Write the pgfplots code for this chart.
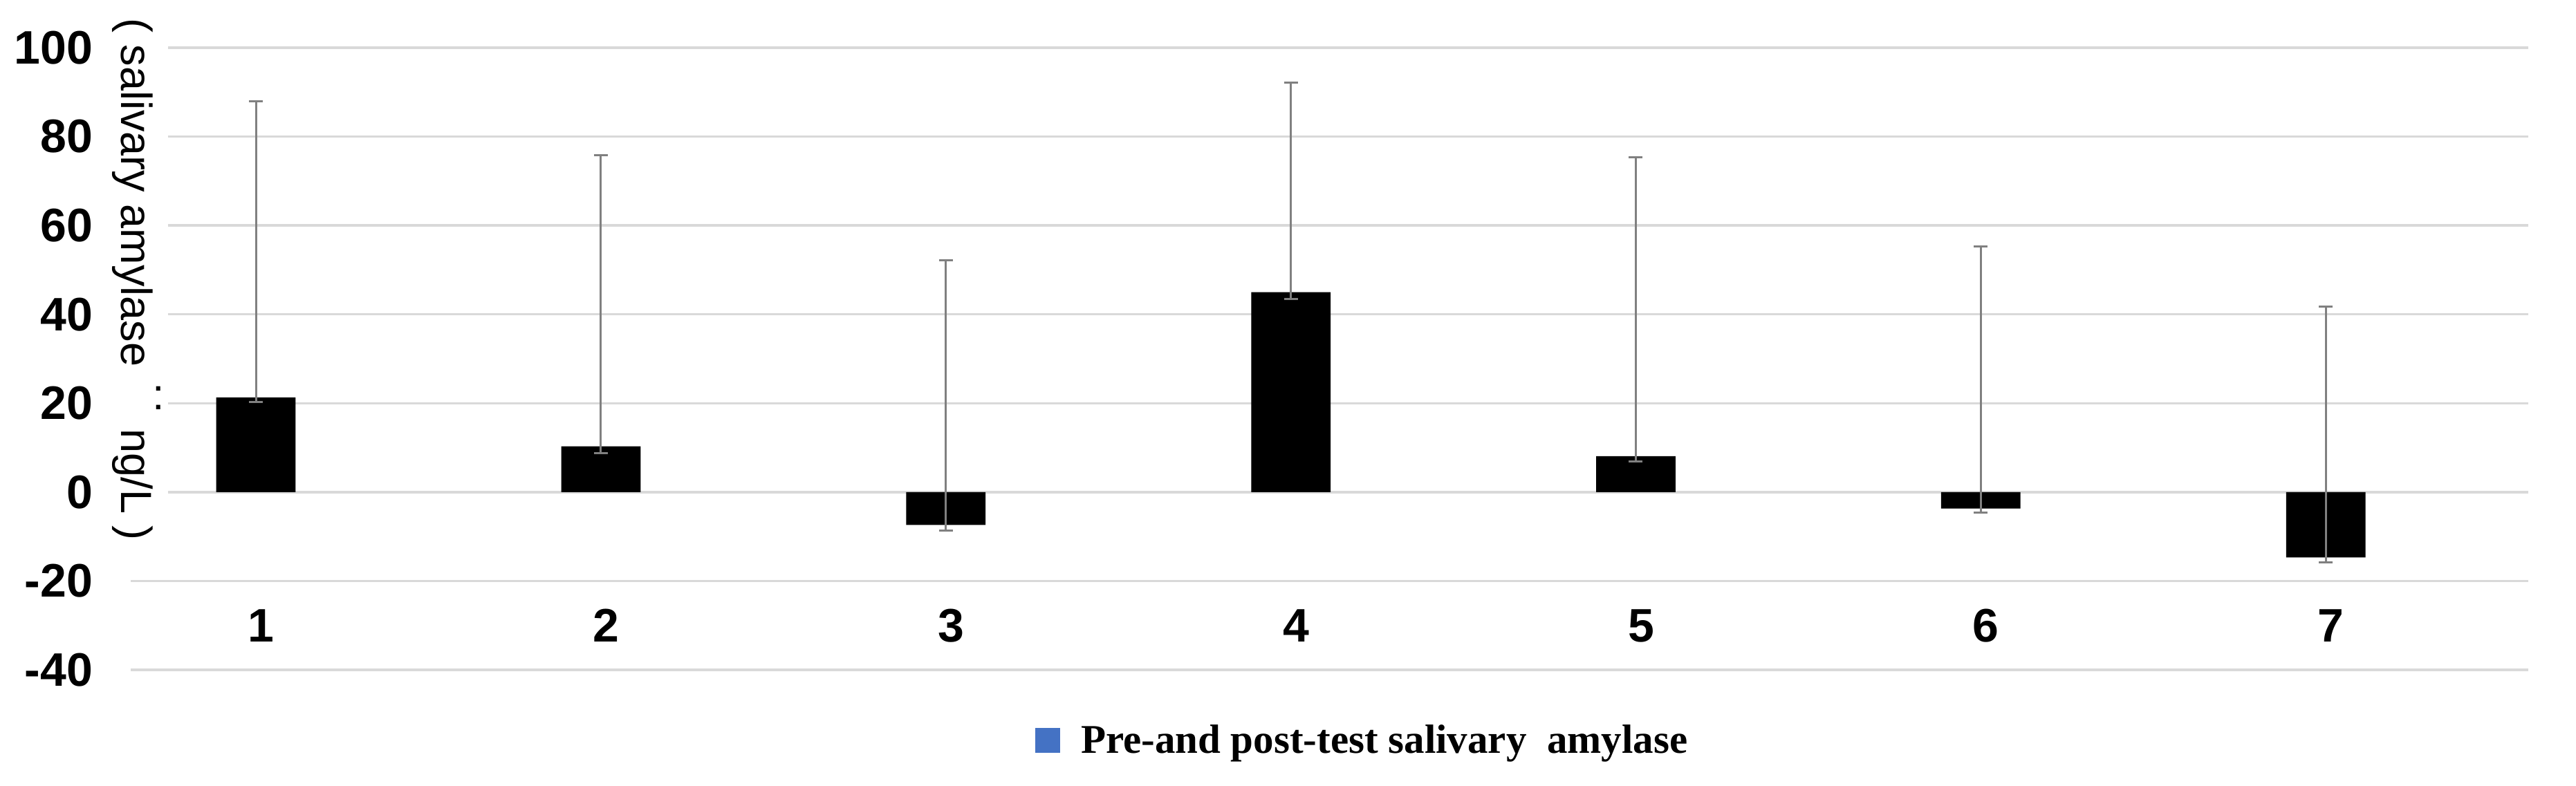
\documentclass[border=0pt]{standalone}
\usepackage{fontspec}
\setmainfont{Liberation Sans}
\newfontfamily\legfont{Liberation Serif}
\usepackage{graphicx}
\usepackage{pgfplots}
\pgfplotsset{compat=1.18}
\usepackage{pgfplotstable}
\definecolor{legblue}{HTML}{4472C4}
\definecolor{gridgray}{HTML}{D9D9D9}
\definecolor{errgray}{HTML}{808080}

% val = bar value; ep = error above the bar value; em = error below it
\pgfplotstableread{
x val ep em
1 21.3 66.7 1.0
2 10.3 65.5 1.6
3 -7.4 59.6 1.2
4 45.0 47.2 1.5
5 8.1 67.2 1.2
6 -3.7 59.0 0.9
7 -14.7 56.4 1.1
}\data

\begin{document}
\begin{tikzpicture}
\useasboundingbox (0,0) rectangle (745bp,227.4bp);
\begin{axis}[
  at={(37.8bp,33.6bp)}, anchor=south west,
  scale only axis, width=693.4bp, height=180bp,
  xmin=0.637, xmax=7.587, ymin=-40, ymax=100,
  xtick={1,2,3,4,5,6,7}, xticklabels={1,2,3,4,5,6,7},
  ytick={-40,-20,0,20,40,60,80,100},
  yticklabels={-40,-20,0,20,40,60,80,100},
  ymajorgrids, grid style={gridgray, line width=0.7bp},
  axis line style={draw=none}, major tick length=0pt,
  tick label style={font=\bfseries\fontsize{13.6bp}{16bp}\selectfont},
  yticklabel style={anchor=east, inner sep=0pt, xshift=-10.8bp},
  xticklabel style={anchor=center, inner sep=0pt, yshift=12.8bp, xshift=1.5bp},
  ylabel={( salivary amylase\hspace{2.2bp} \raisebox{0.72em}{\rotatebox{90}{:}}\hspace{2.2bp} ng/L )},
  ylabel style={rotate=180, at={(axis description cs:0.00317,0.6278)}, anchor=center,
    fill=white, inner sep=1bp, font=\fontsize{12.6bp}{16bp}\selectfont},
  clip=false,
  legend style={draw=none, fill=none, at={(0.377,-0.1156)}, anchor=west,
    inner sep=0pt, column sep=6bp,
    font=\legfont\bfseries\fontsize{11.8bp}{14bp}\selectfont,
    nodes={inner sep=0pt}},
]
\addlegendimage{legend image code/.code={\fill[legblue] (0bp,-2.9bp) rectangle (6.8bp,3.9bp);}}
\addlegendentry{Pre-and post-test salivary~~amylase}
\addplot[ybar, forget plot, fill=black, draw=none, bar width=0.23,
  error bars/.cd, y dir=both, y explicit, error mark=|,
  error bar style={draw=errgray, line width=0.6bp},
  error mark options={draw=errgray, mark size=2bp, line width=0.6bp}]
  table[x=x, y=val, y error plus=ep, y error minus=em]{\data};
\end{axis}
\end{tikzpicture}
\end{document}
